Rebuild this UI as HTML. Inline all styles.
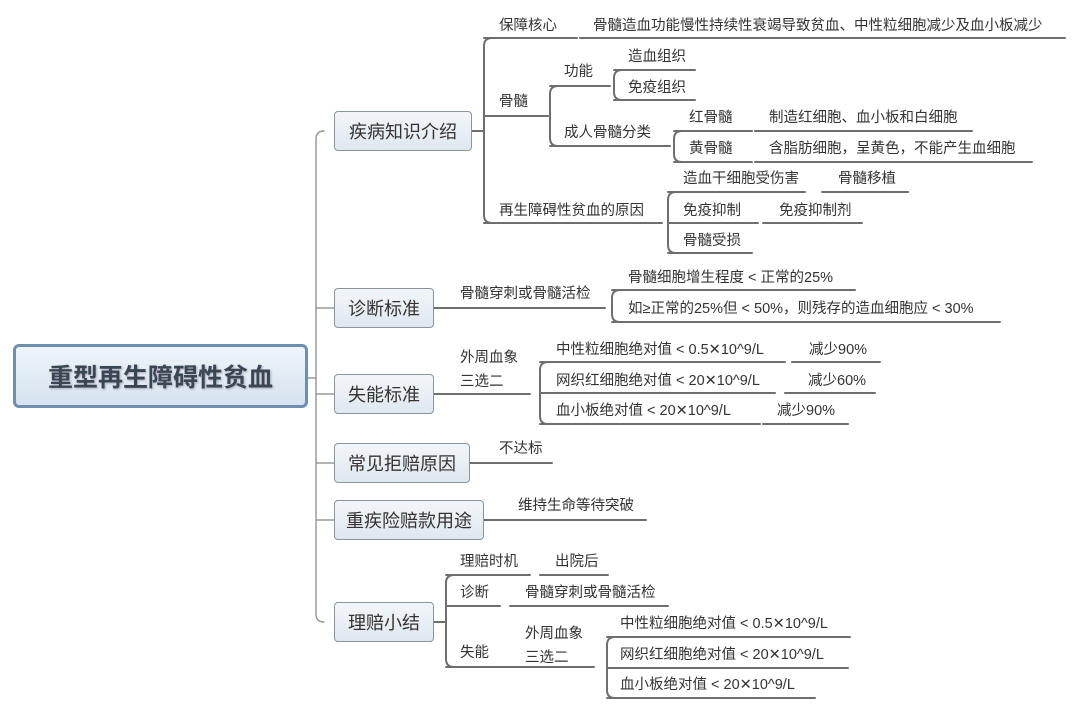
<!DOCTYPE html>
<html><head><meta charset="utf-8"><style>
body{margin:0;width:1080px;height:711px;background:#fff;position:relative;overflow:hidden;font-family:"Liberation Sans","Noto Sans CJK SC",sans-serif;color:#333}
.t{position:absolute;font-size:14.5px;line-height:18px;white-space:nowrap;color:#333}
.n{position:absolute;box-sizing:border-box;border:1.5px solid #8a949e;border-radius:4px;background:linear-gradient(#f2f6fa,#dfe7ef);font-size:18px;color:#333;display:flex;align-items:center;justify-content:center;height:40px}
svg{position:absolute;left:0;top:0}
</style></head><body>
<svg width="1080" height="711" fill="none" stroke="#6e6e6e" stroke-width="2" stroke-linecap="round">
<path d="M308 378 H316" stroke="#999" stroke-width="1.5"/>
<path d="M324 131 Q316 131 316 139 V614 Q316 622 324 622" stroke="#999" stroke-width="1.5"/>
<path d="M316 308H334M316 394H334M316 463H334M316 520H334" stroke="#999" stroke-width="1.5"/>
<path d="M472 131H484"/>
<path d="M492 38 Q484 38 484 46 V215 Q484 223 492 223"/>
<path d="M484 38H577M580 38H1065"/>
<path d="M484 116H548"/>
<path d="M558 86 Q550 86 550 94 V138 Q550 146 558 146"/>
<path d="M550 86H610M550 146H670"/>
<path d="M622 70 Q614 70 614 78 V92 Q614 100 622 100"/>
<path d="M614 70H695M614 100H695"/>
<path d="M682 131 Q674 131 674 139 V154 Q674 162 682 162"/>
<path d="M674 131H752M755 131H972M674 162H752M755 162H1032"/>
<path d="M484 223H662"/>
<path d="M676 192 Q668 192 668 200 V245 Q668 253 676 253"/>
<path d="M668 192H805M822 192H908M668 223H758M763 223H862M668 253H752"/>
<path d="M434 308H605"/>
<path d="M620 290 Q612 290 612 298 V314 Q612 322 620 322"/>
<path d="M612 290H855M612 322H1000"/>
<path d="M434 394H530"/>
<path d="M548 362 Q540 362 540 370 V416 Q540 424 548 424"/>
<path d="M540 362H785M792 362H880M540 393H775M785 393H875M540 424H760M763 424H848"/>
<path d="M470 463H552"/>
<path d="M484 520H646"/>
<path d="M434 622H446"/>
<path d="M454 575 Q446 575 446 583 V659 Q446 667 454 667"/>
<path d="M446 575H530M540 575H608M446 606H500M510 606H668M446 667H594"/>
<path d="M615 637 Q607 637 607 645 V690 Q607 698 615 698"/>
<path d="M607 637H850M607 668H848M607 698H815"/>
</svg>
<div class="n" style="left:13px;top:344px;width:295px;height:64px;border:3px solid #6e8fb0;border-radius:6px;font-size:25px;font-weight:bold;color:#3b4653;background:linear-gradient(#eef4fa,#d6e3ef);text-shadow:1px 1px 2px #aab">重型再生障碍性贫血</div>
<div class="n" style="left:334px;top:111px;width:138px">疾病知识介绍</div>
<div class="n" style="left:334px;top:288px;width:100px">诊断标准</div>
<div class="n" style="left:334px;top:374px;width:100px">失能标准</div>
<div class="n" style="left:334px;top:443px;width:136px">常见拒赔原因</div>
<div class="n" style="left:334px;top:500px;width:150px">重疾险赔款用途</div>
<div class="n" style="left:334px;top:602px;width:100px">理赔小结</div>

<div class="t" style="left:499px;top:17px">保障核心</div>
<div class="t" style="left:593px;top:17px">骨髓造血功能慢性持续性衰竭导致贫血、中性粒细胞减少及血小板减少</div>
<div class="t" style="left:499px;top:93px">骨髓</div>
<div class="t" style="left:564px;top:63px">功能</div>
<div class="t" style="left:628px;top:48px">造血组织</div>
<div class="t" style="left:628px;top:79px">免疫组织</div>
<div class="t" style="left:564px;top:124px">成人骨髓分类</div>
<div class="t" style="left:689px;top:109px">红骨髓</div>
<div class="t" style="left:769px;top:109px">制造红细胞、血小板和白细胞</div>
<div class="t" style="left:689px;top:140px">黄骨髓</div>
<div class="t" style="left:769px;top:140px">含脂肪细胞，呈黄色，不能产生血细胞</div>
<div class="t" style="left:499px;top:202px">再生障碍性贫血的原因</div>
<div class="t" style="left:683px;top:170px">造血干细胞受伤害</div>
<div class="t" style="left:838px;top:170px">骨髓移植</div>
<div class="t" style="left:683px;top:202px">免疫抑制</div>
<div class="t" style="left:779px;top:202px">免疫抑制剂</div>
<div class="t" style="left:683px;top:232px">骨髓受损</div>

<div class="t" style="left:460px;top:285px">骨髓穿刺或骨髓活检</div>
<div class="t" style="left:628px;top:269px">骨髓细胞增生程度 &lt; 正常的25%</div>
<div class="t" style="left:628px;top:300px">如≥正常的25%但 &lt; 50%，则残存的造血细胞应 &lt; 30%</div>

<div class="t" style="left:460px;top:349px">外周血象</div>
<div class="t" style="left:460px;top:373px">三选二</div>
<div class="t" style="left:556px;top:341px">中性粒细胞绝对值 &lt; 0.5✕10^9/L</div>
<div class="t" style="left:809px;top:341px">减少90%</div>
<div class="t" style="left:556px;top:372px">网织红细胞绝对值 &lt; 20✕10^9/L</div>
<div class="t" style="left:808px;top:372px">减少60%</div>
<div class="t" style="left:556px;top:402px">血小板绝对值 &lt; 20✕10^9/L</div>
<div class="t" style="left:777px;top:402px">减少90%</div>

<div class="t" style="left:499px;top:440px">不达标</div>
<div class="t" style="left:518px;top:497px">维持生命等待突破</div>

<div class="t" style="left:460px;top:553px">理赔时机</div>
<div class="t" style="left:555px;top:553px">出院后</div>
<div class="t" style="left:460px;top:584px">诊断</div>
<div class="t" style="left:525px;top:584px">骨髓穿刺或骨髓活检</div>
<div class="t" style="left:460px;top:644px">失能</div>
<div class="t" style="left:525px;top:625px">外周血象</div>
<div class="t" style="left:525px;top:649px">三选二</div>
<div class="t" style="left:620px;top:615px">中性粒细胞绝对值 &lt; 0.5✕10^9/L</div>
<div class="t" style="left:620px;top:646px">网织红细胞绝对值 &lt; 20✕10^9/L</div>
<div class="t" style="left:620px;top:676px">血小板绝对值 &lt; 20✕10^9/L</div>
</body></html>
